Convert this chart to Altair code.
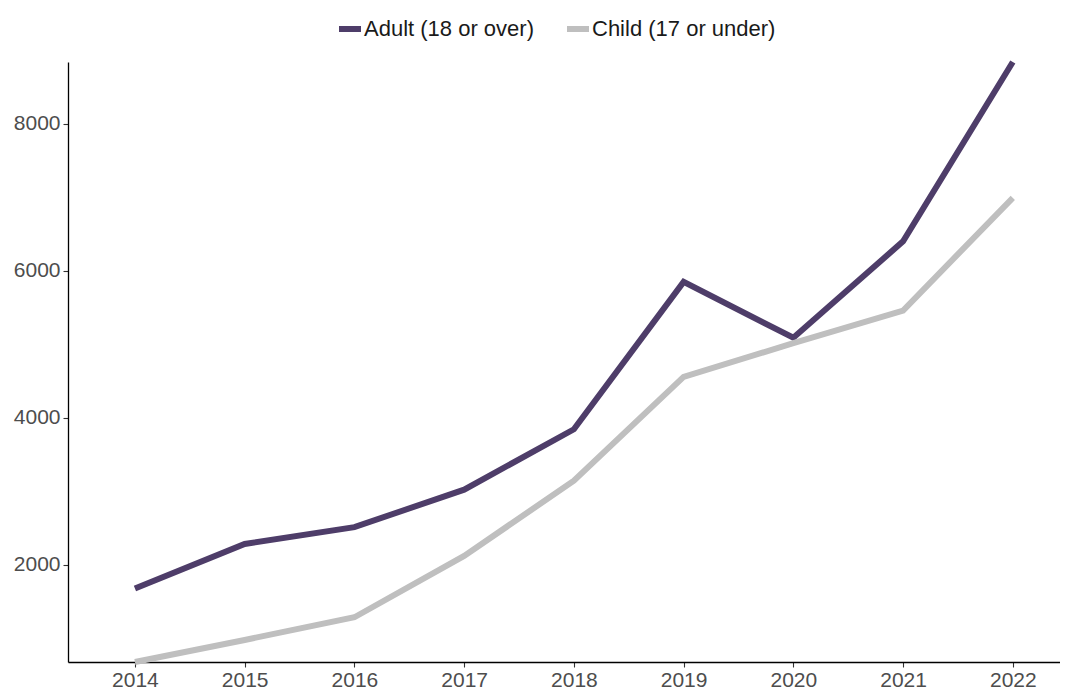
import altair as alt
import pandas as pd

years = [2014, 2015, 2016, 2017, 2018, 2019, 2020, 2021, 2022]
adult = [1677, 2283, 2512, 3023, 3844, 5850, 5090, 6402, 8843]
child = [677, 977, 1286, 2121, 3144, 4558, 5016, 5460, 6995]
series_names = ["Adult (18 or over)", "Child (17 or under)"]
series_colors = ["#4E3D69", "#BFBFBF"]
y_ticks = [2000, 4000, 6000, 8000]

rows = []
for y, a in zip(years, adult):
    rows.append({"year": y, "value": a, "group": series_names[0]})
for y, c in zip(years, child):
    rows.append({"year": y, "value": c, "group": series_names[1]})
df = pd.DataFrame(rows)

FONT = "Liberation Sans"

axis_common = dict(
    title=None,
    grid=False,
    format="d",
    domainColor="#000000",
    domainWidth=1.3,
    tickColor="#333333",
    tickSize=5,
    tickWidth=1.1,
    labelFont=FONT,
    labelFontSize=21,
    labelColor="#4D4D4D",
)

chart = (
    alt.Chart(df)
    .mark_line(strokeWidth=6, strokeCap="butt", strokeJoin="miter")
    .encode(
        x=alt.X(
            "year:Q",
            scale=alt.Scale(domain=[2013.39, 2022.43], nice=False, zero=False),
            axis=alt.Axis(values=years, labelPadding=2, **axis_common),
        ),
        y=alt.Y(
            "value:Q",
            scale=alt.Scale(domain=[677, 8843], nice=False, zero=False),
            axis=alt.Axis(values=y_ticks, labelPadding=3, **axis_common),
        ),
        color=alt.Color(
            "group:N",
            scale=alt.Scale(domain=series_names, range=series_colors),
            legend=alt.Legend(
                title=None,
                orient="none",
                direction="horizontal",
                legendX=268,
                legendY=-47,
                symbolType="stroke",
                symbolSize=484,
                symbolStrokeWidth=6,
                labelFont=FONT,
                labelFontSize=22,
                labelColor="#1A1A1A",
                labelOffset=0,
                labelLimit=0,
                columnPadding=21,
                padding=0,
            ),
        ),
    )
    .properties(
        width=992,
        height=600,
        autosize=alt.AutoSizeParams(type="none"),
        padding={"left": 60, "top": 54, "right": 0, "bottom": 30},
    )
    .configure(background="#FFFFFF")
    .configure_view(stroke=None, strokeWidth=0)
)

chart.save("out.html", embed_options={"renderer": "svg", "actions": False})
